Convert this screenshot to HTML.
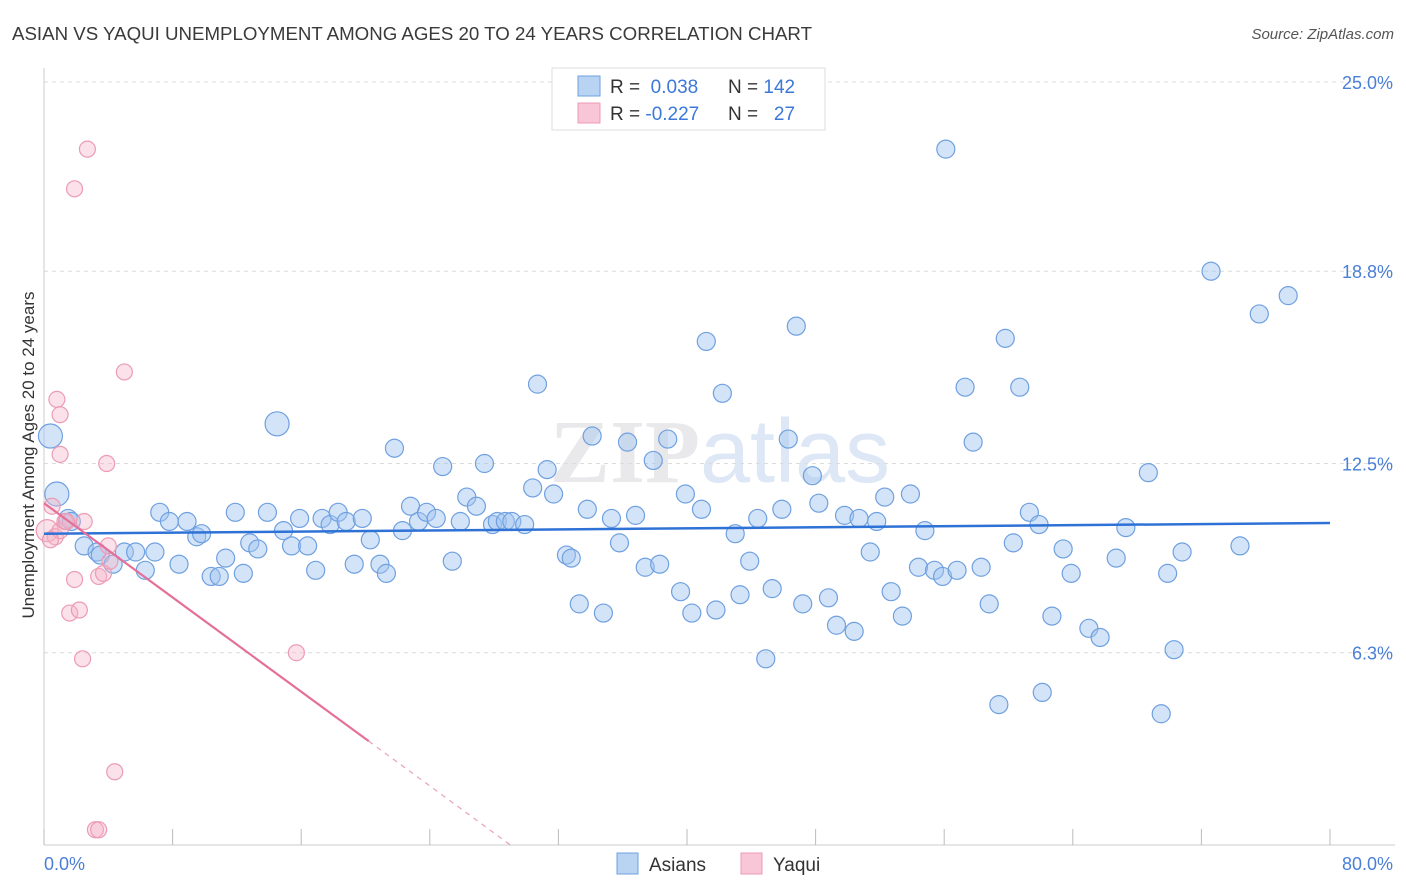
<!DOCTYPE html>
<html><head><meta charset="utf-8"><style>
body{margin:0;background:#fff;font-family:"Liberation Sans",sans-serif;}
svg{display:block}
</style></head><body>
<svg id="chart" width="1406" height="892" xmlns="http://www.w3.org/2000/svg">
<text x="12" y="40" font-size="18.7" fill="#3a3a3a">ASIAN VS YAQUI UNEMPLOYMENT AMONG AGES 20 TO 24 YEARS CORRELATION CHART</text>
<text x="1394" y="39" font-size="15" fill="#555" font-style="italic" text-anchor="end">Source: ZipAtlas.com</text>
<text x="720" y="482" font-size="90" fill="#e9e9ec" text-anchor="middle" font-family="Liberation Serif,serif" font-weight="bold">ZIP<tspan fill="#dde7f5" font-family="Liberation Sans,sans-serif" font-weight="normal">atlas</tspan></text>
<g id="grid"></g>
<g id="axes"></g>
<g id="marks"></g>
<text transform="translate(34,455) rotate(-90)" font-size="17" fill="#333" text-anchor="middle">Unemployment Among Ages 20 to 24 years</text>
<g>
<rect x="552" y="68" width="273" height="62" fill="#fff" stroke="#ddd"/>
<rect x="578" y="76" width="22" height="20" fill="#b9d3f3" stroke="#6fa0e0"/>
<rect x="578" y="103" width="22" height="20" fill="#f8c6d6" stroke="#ec9bb5"/>
<text x="610" y="93" font-size="19" fill="#333">R = <tspan fill="#3c78d8">&#160;0.038</tspan><tspan x="728">N = </tspan><tspan fill="#3c78d8">142</tspan></text>
<text x="610" y="120" font-size="19" fill="#333">R = <tspan fill="#3c78d8">-0.227</tspan><tspan x="728">N = </tspan><tspan fill="#3c78d8">&#160;&#160;27</tspan></text>
</g>
<g>
<rect x="617" y="853" width="21" height="21" fill="#b9d3f3" stroke="#6fa0e0"/>
<text x="649" y="871" font-size="19" fill="#333">Asians</text>
<rect x="741" y="853" width="21" height="21" fill="#f8c6d6" stroke="#ec9bb5"/>
<text x="773" y="871" font-size="19" fill="#333">Yaqui</text>
</g>
</svg>
<script>
const yTicks=[25.0,18.8,12.5,6.3];
const yTickLabels=["25.0%","18.8%","12.5%","6.3%"];
const xTicks=[0,8,16,24,32,40,48,56,64,72,80];
const xEndLabels=["0.0%","80.0%"];
const asianX=[0.4,0.8,1.5,1.7,2.5,3.3,3.5,4.3,5.0,5.7,6.3,6.9,7.2,7.8,8.4,8.9,9.5,9.8,10.4,10.9,11.3,11.9,12.4,12.8,13.3,13.9,14.5,14.9,15.4,15.9,16.4,16.9,17.3,17.8,18.3,18.8,19.3,19.8,20.3,20.9,21.3,21.8,22.3,22.8,23.3,23.8,24.4,24.8,25.4,25.9,26.3,26.9,27.4,27.9,28.2,28.7,29.1,29.9,30.4,30.7,31.3,31.7,32.5,32.8,33.3,33.8,34.1,34.8,35.3,35.8,36.3,36.8,37.4,37.9,38.3,38.8,39.6,39.9,40.3,40.9,41.2,41.8,42.2,43.0,43.3,43.9,44.4,44.9,45.3,45.9,46.3,46.8,47.2,47.8,48.2,48.8,49.3,49.8,50.4,50.7,51.4,51.8,52.3,52.7,53.4,53.9,54.4,54.8,55.4,55.9,56.1,56.8,57.3,57.8,58.3,58.8,59.4,59.8,60.3,60.7,61.3,61.9,62.1,62.7,63.4,63.9,65.0,65.7,66.7,67.3,68.7,69.5,69.9,70.3,70.8,72.6,74.4,75.6,77.4];
const asianY=[13.4,11.5,10.7,10.6,9.8,9.6,9.5,9.2,9.6,9.6,9.0,9.6,10.9,10.6,9.2,10.6,10.1,10.2,8.8,8.8,9.4,10.9,8.9,9.9,9.7,10.9,13.8,10.3,9.8,10.7,9.8,9.0,10.7,10.5,10.9,10.6,9.2,10.7,10.0,9.2,8.9,13.0,10.3,11.1,10.6,10.9,10.7,12.4,9.3,10.6,11.4,11.1,12.5,10.5,10.6,10.6,10.6,10.5,11.7,15.1,12.3,11.5,9.5,9.4,7.9,11.0,13.4,7.6,10.7,9.9,13.2,10.8,9.1,12.6,9.2,13.3,8.3,11.5,7.6,11.0,16.5,7.7,14.8,10.2,8.2,9.3,10.7,6.1,8.4,11.0,13.3,17.0,7.9,12.1,11.2,8.1,7.2,10.8,7.0,10.7,9.6,10.6,11.4,8.3,7.5,11.5,9.1,10.3,9.0,8.8,22.8,9.0,15.0,13.2,9.1,7.9,4.6,16.6,9.9,15.0,10.9,10.5,5.0,7.5,9.7,8.9,7.1,6.8,9.4,10.4,12.2,4.3,8.9,6.4,9.6,18.8,9.8,17.4,18.0];
const yaquiX=[0.2,0.5,0.7,0.8,1.0,1.0,1.0,1.3,1.6,1.9,2.2,2.4,2.5,2.7,1.9,3.2,3.4,3.4,3.7,3.9,4.0,4.1,4.4,5.0,15.7,0.4,1.4];
const yaquiY=[10.3,11.1,10.1,14.6,14.1,12.8,10.3,10.6,7.6,8.7,7.7,6.1,10.6,22.8,21.5,0.5,0.5,8.8,8.9,12.5,9.8,9.3,2.4,15.5,6.3,10.0,10.6];
const asianTrend=[10.2,10.55];
const yaquiTrend=[11.2,-0.386];
const yaquiSolidEnd=20.2, yaquiDashEnd=29.0;

const NS="http://www.w3.org/2000/svg";
const X0=44,X1=1330,Y0=845,PXY=30.52;
const sx=v=>X0+(X1-X0)*v/80;
const sy=v=>Y0-v*PXY;
function mk(tag,attrs,parent){const e=document.createElementNS(NS,tag);for(const k in attrs)e.setAttribute(k,attrs[k]);parent.appendChild(e);return e;}
const grid=document.getElementById('grid'),axes=document.getElementById('axes'),marks=document.getElementById('marks');
yTicks.forEach((t,i)=>{
 const l=mk('line',{x1:X0,x2:1395,y1:sy(t),y2:sy(t),stroke:'#dcdcdc','stroke-dasharray':'4,4'},grid);
 
 
 const tx=mk('text',{x:1393,y:sy(t)+7,'font-size':18,fill:'#4a7fd6','text-anchor':'end'},axes);
 tx.textContent=yTickLabels[i];
 
 
});
const ya=mk('line',{x1:X0,x2:X0,y1:68,y2:Y0,stroke:'#ccc'},axes);


const xa=mk('line',{x1:X0,x2:1395,y1:Y0,y2:Y0,stroke:'#ccc'},axes);


xTicks.forEach(t=>{
 const l=mk('line',{x1:sx(t),x2:sx(t),y1:Y0,y2:Y0-16,stroke:'#bbb'},axes);
 
 
});
const xl0=mk('text',{x:X0,y:870,'font-size':18,fill:'#4a7fd6'},axes);xl0.textContent=xEndLabels[0];


const xl1=mk('text',{x:1393,y:870,'font-size':18,fill:'#4a7fd6','text-anchor':'end'},axes);xl1.textContent=xEndLabels[1];



asianX.forEach((x,i)=>{
 const big=(i<2||i==26);
 const c=mk('circle',{cx:sx(x),cy:sy(asianY[i]),r:big?12:9,fill:'rgba(160,196,240,0.45)',stroke:'#6fa0e0','stroke-width':1.2},marks);
 
 
});
yaquiX.forEach((x,i)=>{
 const c=mk('circle',{cx:sx(x),cy:sy(yaquiY[i]),r:i==0?11:8,fill:'rgba(245,180,200,0.4)',stroke:'#ec9bb5','stroke-width':1.2},marks);
 
 
});
const bt=mk('line',{x1:sx(0),y1:sy(asianTrend[0]),x2:sx(80),y2:sy(asianTrend[1]),stroke:'#2f72d6','stroke-width':2.5},marks);


const yv=x=>yaquiTrend[0]+yaquiTrend[1]*x;
const pt=mk('line',{x1:sx(0),y1:sy(yv(0)),x2:sx(yaquiSolidEnd),y2:sy(yv(yaquiSolidEnd)),stroke:'#e4709a','stroke-width':2.2},marks);


const pd=mk('line',{x1:sx(yaquiSolidEnd),y1:sy(yv(yaquiSolidEnd)),x2:sx(yaquiDashEnd),y2:sy(Math.max(yv(yaquiDashEnd),-0.3)),stroke:'#eaa0bb','stroke-width':1.2,'stroke-dasharray':'5,5'},marks);


</script>
</body></html>
